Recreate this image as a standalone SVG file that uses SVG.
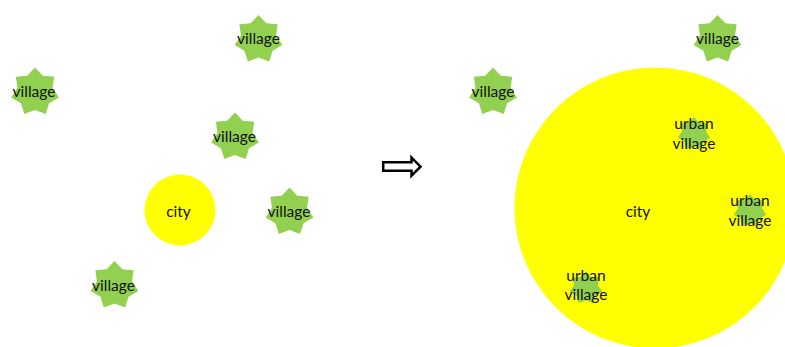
<svg xmlns="http://www.w3.org/2000/svg" width="785" height="347" viewBox="0 0 785 347">
<style>
text{font-family:Lato,"Open Sans",sans-serif;font-size:15.5px;fill:#111;text-anchor:middle}
.star{fill:#92d050}
.city{fill:#ffff00}
</style>
<defs>
<polygon id="star7" class="star" points="0,-24.5 7.81,-16.22 19.15,-15.28 17.55,-4 23.89,5.45 14.07,11.22 10.63,22.07 0,18 -10.63,22.07 -14.07,11.22 -23.89,5.45 -17.55,-4 -19.15,-15.28 -7.81,-16.22"/>
</defs>
<rect width="785" height="347" fill="#fff"/>
<g id="left-city"><circle class="city" cx="180" cy="210" r="35.5"/><text x="178.500" y="217">city</text></g>
<g id="v1"><use href="#star7" x="258.500" y="39.500"/><text x="258.500" y="43.500">village</text></g>
<g id="v2"><use href="#star7" x="35" y="92"/><text x="34" y="96.500">village</text></g>
<g id="v3"><use href="#star7" x="235" y="137"/><text x="234.500" y="141.500">village</text></g>
<g id="v4"><use href="#star7" x="289.500" y="212"/><text x="289" y="216.500">village</text></g>
<g id="v5"><use href="#star7" x="114.500" y="285.500"/><text x="113.500" y="290.500">village</text></g>
<g id="arrow"><path d="M383.200 162.300H411.500V157.500L420.500 166.700L411.500 175.700V170.700H383.200Z" fill="#fff" stroke="#000" stroke-width="2.500"/></g>
<g id="right-city"><circle class="city" cx="655" cy="208" r="140.500"/><text x="638" y="217">city</text></g>
<g id="v6"><use href="#star7" x="493" y="92"/><text x="493" y="96.500">village</text></g>
<g id="v7"><use href="#star7" x="717.500" y="39.500"/><text x="717.500" y="43.500">village</text></g>
<g id="u1"><use href="#star7" transform="translate(694 134) scale(.68)"/><text x="694" y="129">urban</text><text x="694" y="149">village</text></g>
<g id="u2"><use href="#star7" transform="translate(750 211) scale(.68)"/><text x="750" y="206">urban</text><text x="750" y="226">village</text></g>
<g id="u3"><use href="#star7" transform="translate(586 288) scale(.68)"/><text x="586" y="281">urban</text><text x="586" y="300">village</text></g>
</svg>
